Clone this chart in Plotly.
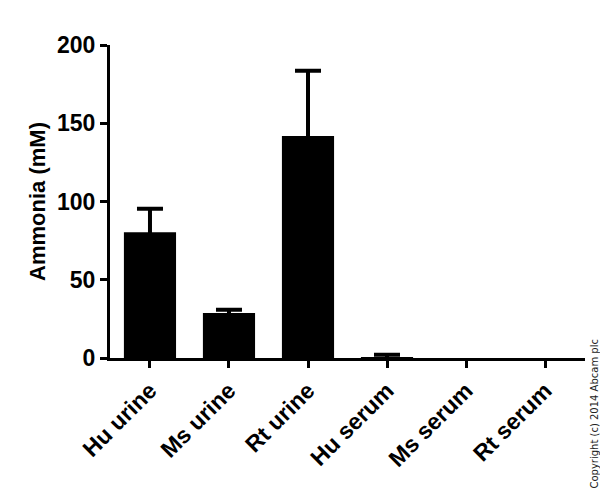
import plotly.graph_objects as go

categories = ["Hu urine", "Ms urine", "Rt urine", "Hu serum", "Ms serum", "Rt serum"]
values = [80.4, 28.7, 141.9, 0.3, 0.0, 0.0]
errors = [15.0, 2.1, 41.6, 1.7, 0.0, 0.0]
y_ticks = [0, 50, 100, 150, 200]

# only points with a visible SEM get an error bar
err_cats = [c for c, e in zip(categories, errors) if e > 0]
err_vals = [v for v, e in zip(values, errors) if e > 0]
err_sizes = [e for e in errors if e > 0]

fig = go.Figure()
fig.add_trace(go.Bar(
    x=categories, y=values,
    marker=dict(color="black", line=dict(width=0)),
    width=0.66,
))
fig.add_trace(go.Scatter(
    x=err_cats, y=err_vals, mode="markers",
    marker=dict(size=1, color="rgba(0,0,0,0)"),
    error_y=dict(type="data", array=err_sizes,
                 color="black", thickness=4, width=13, visible=True),
    hoverinfo="skip",
))

font_main = "Liberation Sans, Arial, sans-serif"
fig.update_layout(
    width=600, height=493,
    margin=dict(l=110, r=15, t=45, b=135, autoexpand=False),
    paper_bgcolor="white", plot_bgcolor="white",
    showlegend=False,
    font=dict(family=font_main, color="black"),
    xaxis=dict(
        range=[-0.506, 5.506],
        categoryorder="array", categoryarray=categories,
        showline=True, linecolor="black", linewidth=3,
        ticks="outside", ticklen=7, tickwidth=3, tickcolor="black",
        tickangle=-45,
        tickfont=dict(family=font_main, size=23, color="black", weight="bold"),
        showgrid=False, zeroline=False, automargin=False,
    ),
    yaxis=dict(
        range=[0, 200],
        tickvals=y_ticks,
        showline=True, linecolor="black", linewidth=3,
        ticks="outside", ticklen=7, tickwidth=3, tickcolor="black",
        tickfont=dict(family=font_main, size=23, color="black", weight="bold"),
        title=dict(text="Ammonia (mM)", font=dict(family=font_main, size=22, color="black", weight="bold"), standoff=6),
        showgrid=False, zeroline=False, automargin=False,
    ),
    annotations=[dict(
        text="Copyright (c) 2014 Abcam plc",
        xref="paper", yref="paper",
        x=1.0, y=-0.425, xanchor="left", yanchor="bottom",
        xshift=2,
        textangle=-90, showarrow=False,
        font=dict(family="DejaVu Sans, Arial, sans-serif", size=10, color="#222222"),
    )],
)

fig.write_html("out.html", config={"displayModeBar": False},
               post_script="document.body.style.margin='0';")
